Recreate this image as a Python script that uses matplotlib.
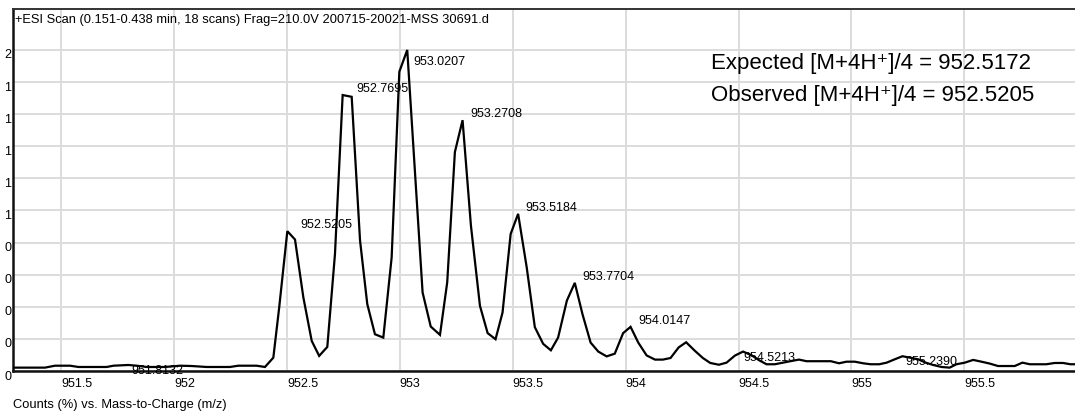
import numpy as np
import matplotlib
matplotlib.use("Agg")
import matplotlib.pyplot as plt
import matplotlib.transforms as mtransforms

plt.rcParams["font.family"] = ["Liberation Sans", "DejaVu Sans"]

# Profile spectrum: m/z and relative intensity
mz = [951.2875, 951.429, 951.473, 951.540, 951.577, 951.702, 951.732, 951.798,
      951.835, 951.879, 951.960, 952.027, 952.079, 952.145, 952.248, 952.285,
      952.366, 952.403, 952.440, 952.466, 952.502, 952.536, 952.573, 952.610,
      952.643, 952.679, 952.713, 952.747, 952.787, 952.824, 952.856, 952.890,
      952.927, 952.964, 952.998, 953.033, 953.101, 953.137, 953.178, 953.210,
      953.244, 953.278, 953.315, 953.355, 953.389, 953.424, 953.455, 953.491,
      953.524, 953.562, 953.598, 953.635, 953.669, 953.701, 953.740, 953.775,
      953.809, 953.845, 953.879, 953.916, 953.952, 953.989, 954.022, 954.056,
      954.093, 954.130, 954.165, 954.199, 954.235, 954.268, 954.305, 954.342,
      954.375, 954.413, 954.447, 954.484, 954.520, 954.558, 954.591, 954.624,
      954.661, 954.697, 954.735, 954.768, 954.801, 954.838, 954.875, 954.909,
      954.945, 954.978, 955.015, 955.052, 955.085, 955.123, 955.156, 955.192,
      955.226, 955.259, 955.295, 955.329, 955.362, 955.399, 955.435, 955.465,
      955.502, 955.539, 955.576, 955.613, 955.649, 955.683, 955.723, 955.757,
      955.790, 955.826, 955.863, 955.900, 955.937, 955.970, 955.989]
intensity = [0.021, 0.021, 0.033, 0.033, 0.025, 0.025, 0.033, 0.0375,
             0.033, 0.025, 0.025, 0.033, 0.031, 0.025, 0.025, 0.033,
             0.033, 0.025, 0.083, 0.396, 0.871, 0.819, 0.458, 0.1875,
             0.094, 0.150, 0.729, 1.719, 1.708, 0.8125, 0.417, 0.229,
             0.208, 0.708, 1.864, 2.000, 0.489, 0.277, 0.225, 0.552,
             1.364, 1.5625, 0.906, 0.406, 0.236, 0.198, 0.364, 0.854,
             0.979, 0.646, 0.273, 0.169, 0.129, 0.208, 0.439, 0.549,
             0.354, 0.177, 0.121, 0.091, 0.108, 0.236, 0.275, 0.177,
             0.097, 0.071, 0.071, 0.081, 0.147, 0.179, 0.128, 0.081,
             0.050, 0.039, 0.052, 0.096, 0.121, 0.098, 0.067, 0.042,
             0.042, 0.052, 0.0625, 0.071, 0.061, 0.061, 0.061, 0.061,
             0.048, 0.058, 0.058, 0.048, 0.042, 0.042, 0.052, 0.073,
             0.092, 0.083, 0.073, 0.052, 0.0375, 0.025, 0.021, 0.042,
             0.052, 0.069, 0.058, 0.046, 0.031, 0.031, 0.031, 0.052,
             0.042, 0.042, 0.042, 0.050, 0.050, 0.042, 0.042]

# Centroid labels
major_peaks = [952.5205, 952.7695, 953.0207, 953.2708, 953.5184, 953.7704, 954.0147]
minor_peaks = [951.8132, 954.5213, 955.2390]

xticks = [951.5, 952.0, 952.5, 953.0, 953.5, 954.0, 954.5, 955.0, 955.5]
xtick_labels = ["951.5", "952", "952.5", "953", "953.5", "954", "954.5", "955", "955.5"]
yticks = [0.0, 0.2, 0.4, 0.6, 0.8, 1.0, 1.2, 1.4, 1.6, 1.8, 2.0]
ytick_labels = ["0", "0", "0", "0", "0", "1", "1", "1", "1", "1", "2"]

title = "+ESI Scan (0.151-0.438 min, 18 scans) Frag=210.0V 200715-20021-MSS 30691.d"
xlabel = "Counts (%) vs. Mass-to-Charge (m/z)"
expected_txt = "Expected [M+4H\u207a]/4 = 952.5172"
observed_txt = "Observed [M+4H\u207a]/4 = 952.5205"

W, H = 1075, 419
fig = plt.figure(figsize=(W / 100, H / 100), dpi=100)
ax = fig.add_axes([12.5 / W, 1 - 371 / H, 1 - 12.5 / W, (371 - 9) / H])

mz_arr = np.array(mz)
int_arr = np.array(intensity)
ax.plot(mz_arr, int_arr, color="black", lw=1.6, solid_joinstyle="miter", zorder=3)

ax.set_xlim(951.285, 955.99)
ax.set_ylim(0, 2.255)

ax.set_xticks(xticks)
ax.set_xticklabels(xtick_labels, fontsize=9)
ax.set_yticks(yticks)
ax.set_yticklabels(ytick_labels, fontsize=9)
ax.tick_params(axis="both", length=0)
ax.tick_params(axis="x", pad=5)
ax.tick_params(axis="y", pad=1)
for lab in ax.get_xticklabels():
    lab.set_horizontalalignment("left")
ydown = mtransforms.ScaledTranslation(0, -4 / 100, fig.dpi_scale_trans)
for lab in ax.get_yticklabels():
    lab.set_transform(lab.get_transform() + ydown)

ax.grid(True, color="#dcdcdc", lw=1.4, zorder=0)
ax.set_axisbelow(True)

for side in ("left", "bottom"):
    ax.spines[side].set_linewidth(1.8)
    ax.spines[side].set_color("#111111")
ax.spines["top"].set_linewidth(1.4)
ax.spines["top"].set_color("#333333")
ax.spines["right"].set_visible(False)


def local_max(x0, half=0.025):
    sel = (mz_arr > x0 - half) & (mz_arr < x0 + half)
    return int_arr[sel].max()


top_peak = max(major_peaks, key=local_max)
for p in major_peaks:
    h = local_max(p)
    if p == top_peak:
        ax.annotate(f"{p:.4f}", (p, h), xytext=(9, -6), textcoords="offset pixels",
                    ha="left", va="top", fontsize=9, zorder=4)
    else:
        ax.annotate(f"{p:.4f}", (p, h), xytext=(9, 0), textcoords="offset pixels",
                    ha="left", va="bottom", fontsize=9, zorder=4)
for p in minor_peaks:
    h = local_max(p)
    t = ax.annotate(f"{p:.4f}", (p, h), xytext=(0, 0), textcoords="offset pixels",
                    ha="left", va="top", fontsize=9, zorder=4)
    t.set_clip_on(True)

fig.text(15 / W, 1 - 20 / H, title, fontsize=9.3, ha="left", va="center")
fig.text(13 / W, 1 - 405 / H, xlabel, fontsize=9.3, ha="left", va="center")
fig.text(711 / W, 1 - 63 / H, expected_txt, fontsize=16, ha="left", va="center")
fig.text(711 / W, 1 - 95 / H, observed_txt, fontsize=16, ha="left", va="center")

fig.savefig("out.png", dpi=100)
